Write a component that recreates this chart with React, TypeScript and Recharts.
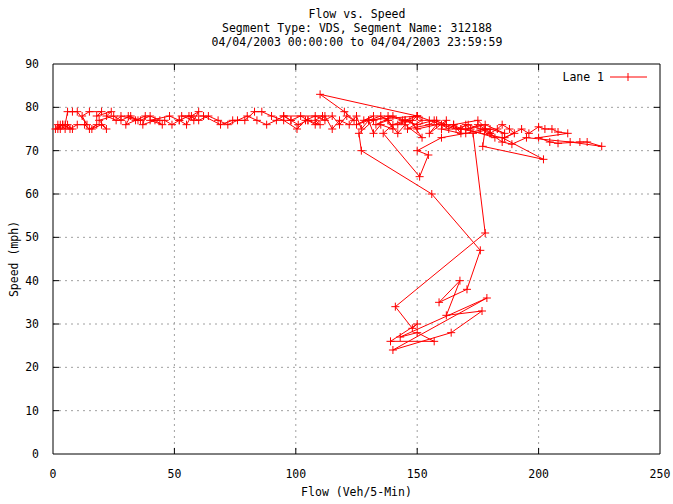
import React from "react";
import {
  ScatterChart,
  Scatter,
  XAxis,
  YAxis,
  CartesianGrid,
  ReferenceArea,
  ReferenceLine,
} from "recharts";

// flow (veh/5-min) and speed (mph), in time order
const flow = [
  44, 40, 36, 31, 35, 28, 26, 22, 24, 18, 20, 15, 12, 14, 10, 8, 6, 5, 3, 2,
  1, 4, 2, 3, 5, 6, 8, 4, 7, 10, 13, 15, 18, 16, 20, 22, 19, 25, 28, 32,
  30, 34, 38, 37, 42, 45, 40, 48, 52, 55, 57, 60, 58, 53, 62, 69, 74, 79, 83, 86,
  90, 95, 100.5, 104, 108, 112, 115, 118, 121, 124, 120, 110, 150, 128, 132, 125, 130, 135, 138, 133,
  140, 145, 142, 148, 150, 152, 146, 155, 158, 160, 163, 165, 168, 170, 172, 175, 178, 180, 183, 185,
  188, 190, 186, 193, 196, 200, 202.6, 205.5, 208, 212, 200, 204.6, 208, 217, 220, 226, 213, 195, 189, 185,
  180, 176, 171, 166, 160, 155, 150, 145, 140, 136, 151, 154.6, 150, 160, 170, 178, 177, 202, 185, 168,
  162, 157, 150, 144, 138, 132, 126, 127, 156, 176, 170.5, 159, 167.6, 162, 176.7, 164, 140, 178.7, 143, 150,
  157, 139, 150, 148, 141, 178, 173, 180, 186, 178, 170, 182, 175, 165, 168, 160, 162, 155, 158, 150,
  147, 152, 145, 142, 138, 140, 135, 132, 130, 127, 125, 122, 118, 115, 112, 108, 105, 102, 98, 95,
  111, 108, 110, 105, 101, 98, 95, 92, 88, 84, 80, 76, 72, 68, 64, 60, 56, 52, 49, 46,
];
const speed = [
  77, 78, 77, 78, 77, 78, 77, 78, 79, 78, 79, 79, 78, 76, 79, 79, 79, 76, 75, 76,
  75, 76, 75, 76, 75, 76, 75, 76, 75, 76, 76, 75, 76, 75, 76, 75, 77, 78, 77, 78,
  76, 77, 78, 76, 77, 76, 77, 78, 77, 76, 78, 79, 77, 78, 78, 76, 77, 77, 79, 79,
  78, 77, 75, 77, 78, 77, 78, 76, 78, 77, 79, 83, 78, 77, 78, 76, 77, 78, 77, 76,
  78, 77, 76, 77, 78, 77, 75, 76, 77, 76, 75, 76, 75, 76, 75, 76, 75, 74, 75, 76,
  75, 74, 73, 75, 74, 75.5, 75, 75, 74.3, 74, 73, 72, 71.7, 72, 72, 71, 72, 73, 71.5, 72,
  74, 75, 76, 75, 76, 77, 78, 77, 76, 74, 64, 69, 70, 73, 74, 75, 71, 68, 73, 75,
  76, 77, 76, 77, 78, 77, 74, 70, 60, 47, 38, 35, 40, 32, 33, 28, 24, 36, 27, 28,
  26, 26, 30, 29, 34, 51, 74, 75, 74, 76, 75, 73, 77, 76, 74, 75, 77, 74, 76, 75,
  77, 73, 76, 74, 77, 75, 76, 74, 77, 75, 78, 76, 77, 75, 78, 76, 77, 78, 77, 78,
  78, 77, 76, 77, 76, 77, 78, 77, 76, 77, 78, 77, 76, 77, 78, 77, 78, 77, 76, 77,
];

const data = flow.map((f, i) => ({ flow: f, speed: speed[i] }));

const xTicks = [0, 50, 100, 150, 200, 250];
const yTicks = [0, 10, 20, 30, 40, 50, 60, 70, 80, 90];

const titleLines = [
  "Flow vs. Speed",
  "Segment Type: VDS, Segment Name: 312188",
  "04/04/2003 00:00:00 to 04/04/2003 23:59:59",
];

const FONT = "'DejaVu Sans Mono', monospace";
const TICK_X = 2.5; // ~6px in flow units
const TICK_Y = 1.4; // ~6px in speed units

const Cross = (props: any) => {
  const { cx, cy } = props;
  if (cx == null || cy == null) return null;
  return (
    <path
      d={`M${cx - 4},${cy}h8M${cx},${cy - 4}v8`}
      stroke="#ff0000"
      strokeWidth={1}
    />
  );
};

export default function App() {
  return (
    <div style={{ position: "absolute", left: 0, top: 0, width: 673, height: 504, background: "#fff" }}>
      <div style={{ position: "absolute", left: 0, top: 0 }}>
        <ScatterChart
          width={673}
          height={504}
          margin={{ top: 64, right: 13, left: 0, bottom: 0 }}
        >
          <CartesianGrid
            stroke="#a0a0a0"
            strokeDasharray="2 4"
            horizontalValues={yTicks.slice(1, -1)}
            verticalValues={xTicks.slice(1, -1)}
          />
          <XAxis
            type="number"
            dataKey="flow"
            domain={[0, 250]}
            ticks={xTicks}
            height={50}
            axisLine={false}
            tickLine={false}
            tickMargin={10}
            tick={{ fontFamily: FONT, fontSize: 11.5, fill: "#000" }}
            label={{
              value: "Flow (Veh/5-Min)",
              position: "insideBottom",
              offset: 8,
              style: { fontFamily: FONT, fontSize: 11.5, fill: "#000" },
            }}
          />
          <YAxis
            type="number"
            dataKey="speed"
            domain={[0, 90]}
            ticks={yTicks}
            width={53}
            axisLine={false}
            tickLine={false}
            tickMargin={8}
            tick={{ fontFamily: FONT, fontSize: 11.5, fill: "#000" }}
            label={{
              value: "Speed (mph)",
              angle: -90,
              position: "insideLeft",
              offset: 14,
              style: { fontFamily: FONT, fontSize: 11.5, fill: "#000", textAnchor: "middle" },
            }}
          />
          {yTicks.slice(1, -1).map((v) => (
            <ReferenceLine
              key={`yl${v}`}
              segment={[{ x: 0, y: v }, { x: TICK_X, y: v }]}
              stroke="#000"
            />
          ))}
          {yTicks.slice(1, -1).map((v) => (
            <ReferenceLine
              key={`yr${v}`}
              segment={[{ x: 250 - TICK_X, y: v }, { x: 250, y: v }]}
              stroke="#000"
            />
          ))}
          {xTicks.slice(1, -1).map((v) => (
            <ReferenceLine
              key={`xb${v}`}
              segment={[{ x: v, y: 0 }, { x: v, y: TICK_Y }]}
              stroke="#000"
            />
          ))}
          {xTicks.slice(1, -1).map((v) => (
            <ReferenceLine
              key={`xt${v}`}
              segment={[{ x: v, y: 90 - TICK_Y }, { x: v, y: 90 }]}
              stroke="#000"
            />
          ))}
          <ReferenceArea
            x1={0}
            x2={250}
            y1={0}
            y2={90}
            fill="none"
            stroke="#000"
            strokeWidth={1}
            ifOverflow="visible"
          />
          <Scatter
            name="Lane 1"
            data={data}
            fill="#ff0000"
            line={{ stroke: "#ff0000", strokeWidth: 1 }}
            lineType="joint"
            shape={<Cross />}
            isAnimationActive={false}
          />
        </ScatterChart>
      </div>
      <svg
        width={673}
        height={90}
        style={{ position: "absolute", left: 0, top: 0, pointerEvents: "none" }}
      >
        {titleLines.map((t, i) => (
          <text
            key={i}
            x={357}
            y={18 + i * 14}
            textAnchor="middle"
            fontFamily={FONT}
            fontSize={11.5}
            fill="#000"
          >
            {t}
          </text>
        ))}
        <text x={604} y={81} textAnchor="end" fontFamily={FONT} fontSize={11.5} fill="#000">
          Lane 1
        </text>
        <path d="M610,77h37M628,73v8" stroke="#ff0000" strokeWidth={1} />
      </svg>
    </div>
  );
}
